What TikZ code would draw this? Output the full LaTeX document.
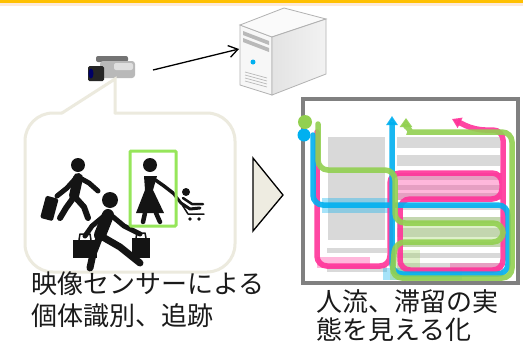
\documentclass[tikz,border=0pt]{standalone}
\usepackage{fontspec}
\newfontfamily\jpfont{Noto Sans CJK JP}
\usepackage{xcolor}
\usetikzlibrary{arrows.meta}

\definecolor{barraLaranja}{RGB}{255,192,0}
\definecolor{barraPessego}{RGB}{253,233,217}
\definecolor{balao}{RGB}{236,234,222}
\definecolor{triangulo}{RGB}{238,236,225}
\definecolor{rosa}{RGB}{255,51,153}
\definecolor{azul}{RGB}{0,176,240}
\definecolor{verde}{RGB}{146,208,80}
\definecolor{caixaVerde}{RGB}{150,230,90}
\definecolor{prateleira}{RGB}{217,217,217}
\definecolor{moldura}{RGB}{128,128,128}
\definecolor{texto}{RGB}{26,26,26}

\tikzset{
	legenda/.style = {anchor = base west, inner sep = 0pt, texto, font = \jpfont\fontsize{26}{31}\selectfont},
	pessoa/.style = {black!92, line cap = round, line join = round},
	trajeto/.style = {line width = 5.5pt, line cap = round, rounded corners = 10pt, opacity = 0.9},
}

\begin{document}
\begin{tikzpicture}[x = 1pt, y = -1pt]

	\useasboundingbox (0, 0) rectangle (523, 346);
	\fill[white] (0, 0) rectangle (523, 346);

	\fill[barraLaranja] (0, 0) rectangle (523, 3); % Barra superior
	\fill[barraPessego] (0, 3) rectangle (523, 6);

	% Servidor
	\draw[gray!60, line width = 0.8pt, fill = gray!6] (240, 25) -- (272, 37) -- (272, 95) -- (240, 85) -- cycle;
	\draw[gray!60, line width = 0.8pt, fill = gray!4] (240, 25) -- (284, 8) -- (326, 19) -- (272, 37) -- cycle;
	\draw[gray!60, line width = 0.8pt, left color = gray!22, right color = gray!10] (272, 37) -- (326, 19) -- (326, 74) -- (272, 95) -- cycle;
	\fill[gray!55] (243, 31) -- (269, 41) -- (269, 45) -- (243, 35) -- cycle;
	\fill[gray!55] (243, 38) -- (269, 48) -- (269, 52) -- (243, 42) -- cycle;
	\fill[azul] (253, 62) circle (2.5);
	\foreach \v in {72, 75, 78, 81}
		\draw[gray!55, line width = 0.7pt] (245, \v) -- (267, \v + 6);

	% Câmera
	\fill[black!55, rounded corners = 2pt] (96, 56) rectangle (128, 62);
	\fill[gray!55, rounded corners = 3pt] (100, 61) rectangle (135, 78);
	\fill[gray!25, rounded corners = 2pt] (114, 63) rectangle (133, 70);
	\fill[black!85, rounded corners = 1.5pt] (88, 66) rectangle (104, 81);
	\fill[black!60!blue] (91, 73.5) ellipse (2.5 and 5);

	\coordinate (camara) at (153, 70);
	\coordinate (servidor) at (239, 49);
	\draw[-{Straight Barb[length = 9pt, width = 12pt]}, line width = 1.3pt] (camara) -- (servidor);

	% Balão
	\draw[balao, line width = 3pt, line cap = round, rounded corners = 28pt] (62, 113) -- (25, 113) -- (25, 272) -- (235, 272) -- (235, 113) -- (115, 113);
	\draw[balao, line width = 3pt, line cap = round] (62, 113) -- (115, 79) -- (115, 113);

	% Pessoa com mala
	\fill[pessoa] (78, 165) circle (7);
	\draw[pessoa, line width = 10pt] (78, 178) -- (74, 196);
	\draw[pessoa, line width = 5pt] (80, 178) -- (89, 183) -- (98, 191);
	\draw[pessoa, line width = 5pt] (76, 178) -- (67, 188) -- (57, 196);
	\draw[pessoa, line width = 6pt] (74, 197) -- (66, 208) -- (60, 218);
	\draw[pessoa, line width = 6pt] (75, 197) -- (84, 207) -- (88, 218);
	\fill[pessoa, rounded corners = 1.5pt, rotate around = {-15:(50, 208)}] (43, 197) rectangle (56, 220);

	% Pessoa com sacolas
	\fill[pessoa] (110, 200) circle (8);
	\draw[pessoa, line width = 12pt] (108, 215) -- (100, 235);
	\draw[pessoa, line width = 5pt] (104, 216) -- (92, 226) -- (85, 236);
	\draw[pessoa, line width = 5pt] (112, 216) -- (124, 226) -- (140, 234);
	\draw[pessoa, line width = 7pt] (100, 236) -- (93, 254) -- (90, 268);
	\draw[pessoa, line width = 7pt] (101, 236) -- (120, 247) -- (140, 263);
	\fill[pessoa] (73, 240) rectangle (97, 258);
	\draw[pessoa, line width = 1.5pt] (79, 240) -- (80, 234) -- (90, 234) -- (91, 240);
	\fill[pessoa] (132, 238) rectangle (150, 258);
	\draw[pessoa, line width = 1.5pt] (136, 238) -- (137, 233) -- (145, 233) -- (146, 238);

	% Pessoa com carrinho
	\fill[pessoa] (150, 165) circle (7);
	\fill[pessoa] (144, 176) -- (157, 176) -- (153, 190) -- (164, 213) -- (136, 213) -- (145, 190) -- cycle;
	\draw[pessoa, line width = 4.5pt] (145, 213) -- (143, 222);
	\draw[pessoa, line width = 4.5pt] (156, 213) -- (160, 222);
	\draw[pessoa, line width = 3.5pt] (154, 179) -- (164, 186) -- (173, 193);
	\fill[pessoa] (186, 192) circle (4);
	\draw[pessoa, line width = 3pt] (173, 193) -- (181, 203) -- (190, 209) -- (200, 208);
	\draw[pessoa, line width = 2.5pt] (183, 198) -- (192, 204) -- (203, 204);
	\draw[pessoa, line width = 1.5pt] (181, 203) -- (188, 214) -- (204, 214);
	\fill[pessoa] (190, 219) circle (1.8);
	\fill[pessoa] (199, 219) circle (1.8);

	\draw[caixaVerde, line width = 3pt, rounded corners = 1pt] (130, 151) rectangle (176, 226); % Pessoa identificada

	\draw[fill = triangulo, line width = 1.3pt, line join = miter] (253, 158) -- (283, 195) -- (253, 231) -- cycle;

	% Planta com prateleiras
	\draw[moldura, line width = 4.5pt] (303, 99) rectangle (518, 283);
	\fill[prateleira] (328, 137) rectangle (385, 240);
	\fill[prateleira] (327, 248) rectangle (387, 253);
	\fill[prateleira] (327, 266) rectangle (387, 272);
	\foreach \a/\b in {137/148, 155/166, 173/180, 185/190, 193/200, 205/210, 217/223, 228/237, 242/247, 253/258, 263/272}
		\fill[prateleira] (397, \a) rectangle (500, \b);

	\fill[rosa, opacity = 0.35] (397, 173) rectangle (502, 200);
	\fill[rosa, opacity = 0.35] (317, 257) rectangle (370, 268);
	\fill[rosa, opacity = 0.35] (450, 263) rectangle (503, 277);
	\fill[azul, opacity = 0.35] (322, 198) rectangle (392, 213);
	\fill[azul, opacity = 0.35] (383, 268) rectangle (462, 280);
	\fill[verde, opacity = 0.3] (397, 217) rectangle (503, 247);
	\fill[verde, opacity = 0.3] (390, 250) rectangle (420, 280);

	% Trajetos
	\draw[trajeto, rosa, -{Triangle[length = 9pt, width = 11pt]}] (317, 132) -- (317, 266) -- (390, 266) -- (390, 173) -- (502, 173) -- (502, 199) -- (400, 199) -- (400, 270) -- (503, 270) -- (503, 130) -- (475, 130) -- (452, 119);
	\draw[trajeto, azul, -{Triangle[length = 9pt, width = 11pt]}] (313, 135) -- (313, 205) -- (508, 205) -- (508, 274) -- (392, 274) -- (392, 116);
	\draw[trajeto, verde, -{Triangle[length = 9pt, width = 12pt]}] (318, 124) -- (318, 170) -- (395, 170) -- (395, 223) -- (503, 223) -- (503, 242) -- (395, 242) -- (392, 278) -- (512, 278) -- (512, 132) -- (420, 132) to[out = 180, in = -90] (406, 118);
	\fill[azul] (304, 135) circle (6.5);
	\fill[verde] (305, 122) circle (7);

	% Legendas
	\node[legenda] (sensor1) at (31, 293) {映像センサーによる};
	\node[legenda] (sensor2) at (31, 325) {個体識別、追跡};
	\node[legenda] (fluxo1) at (316, 311) {人流、滞留の実};
	\node[legenda] (fluxo2) at (316, 339) {態を見える化};

\end{tikzpicture}
\end{document}
